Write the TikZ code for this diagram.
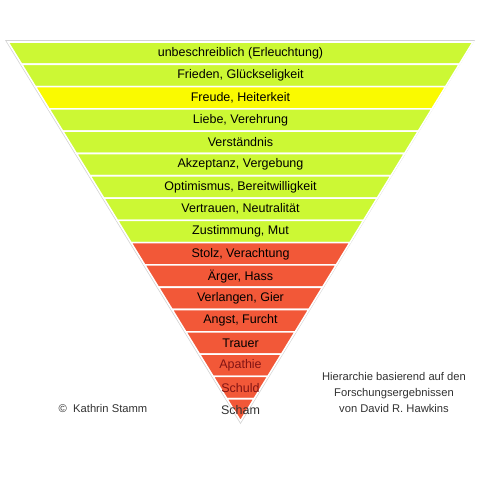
\documentclass[tikz,border=0pt]{standalone}
\usepackage{fontspec}
\setmainfont{Liberation Sans}
\definecolor{lgreen}{RGB}{204,248,52}
\definecolor{lyellow}{RGB}{250,250,0}
\definecolor{lred}{RGB}{242,88,56}
\definecolor{dred}{RGB}{130,20,20}
\definecolor{tgrey}{RGB}{50,50,50}
\begin{document}
\begin{tikzpicture}[x=1pt,y=-1pt,
  band/.style={draw=white,line width=1.6pt,line join=miter},
  lbl/.style={font=\fontsize{12.5}{14}\selectfont,text=black,inner sep=0pt},
  side/.style={font=\fontsize{11.2}{16}\selectfont,text=tgrey,align=center,inner sep=0pt}]
\useasboundingbox (0,0) rectangle (480,480);
\def\ytop{42}\def\yapex{421}\def\hw{232.5}\def\cx{240.5}
% outline / shadow
\fill[gray!35] (\cx-\hw-3,\ytop-2) -- (\cx+\hw+2,\ytop-2) -- (\cx,\yapex+3) -- cycle;
\foreach \i/\c/\t/\s in {
 0/lgreen/{unbeschreiblich (Erleuchtung)}/black,
 1/lgreen/{Frieden, Glückseligkeit}/black,
 2/lyellow/{Freude, Heiterkeit}/black,
 3/lgreen/{Liebe, Verehrung}/black,
 4/lgreen/{Verständnis}/black,
 5/lgreen/{Akzeptanz, Vergebung}/black,
 6/lgreen/{Optimismus, Bereitwilligkeit}/black,
 7/lgreen/{Vertrauen, Neutralität}/black,
 8/lgreen/{Zustimmung, Mut}/black,
 9/lred/{Stolz, Verachtung}/black,
 10/lred/{Ärger, Hass}/black,
 11/lred/{Verlangen, Gier}/black,
 12/lred/{Angst, Furcht}/black,
 13/lred/{Trauer}/black,
 14/lred/{Apathie}/dred,
 15/lred/{Schuld}/dred,
 16/lred/{Scham}/tgrey}{
  \pgfmathsetmacro{\ya}{\ytop+\i*(\yapex-\ytop)/17}
  \pgfmathsetmacro{\yb}{\ytop+(\i+1)*(\yapex-\ytop)/17}
  \pgfmathsetmacro{\wa}{\hw/(\yapex-\ytop)*(\yapex-\ya)}
  \pgfmathsetmacro{\wb}{\hw/(\yapex-\ytop)*(\yapex-\yb)}
  \filldraw[band,fill=\c] (\cx-\wa,\ya) -- (\cx+\wa,\ya) -- (\cx+\wb,\yb) -- (\cx-\wb,\yb) -- cycle;
  \node[lbl,text=\s] (b\i) at (\cx,{(\ya+\yb)/2}) {\t};
}
\node[side] (copy) at (103,408) {©\ \ Kathrin Stamm};
\node[side] (src) at (394,392) {Hierarchie basierend auf den\\Forschungsergebnissen\\von David R. Hawkins};
\end{tikzpicture}
\end{document}
